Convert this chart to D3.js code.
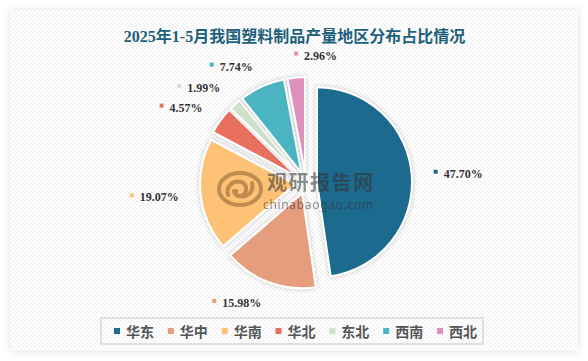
<!DOCTYPE html>
<html><head><meta charset="utf-8">
<script src="https://cdn.jsdelivr.net/npm/d3@7"></script>
<style>html,body{margin:0;padding:0;background:#fff;}svg{display:block;}</style>
</head><body>
<svg id="chart" width="588" height="361"></svg>
<script>
const titleText = "2025年1-5月我国塑料制品产量地区分布占比情况";
const categories = ["华东","华中","华南","华北","东北","西南","西北"];
const values = [47.70, 15.98, 19.07, 4.57, 1.99, 7.74, 2.96];
const colors = ["#1c6b8e","#e69d7d","#fec277","#e9705f","#cfe0cb","#4bb4c1","#dd91bc"];

const W = 588, H = 361;
const svg = d3.select("#chart");
const defs = svg.append("defs");

// stripe pattern
const pat = defs.append("pattern").attr("id","stripes").attr("patternUnits","userSpaceOnUse")
  .attr("width",4).attr("height",4);
pat.append("rect").attr("width",4).attr("height",4).attr("fill","#fff");
pat.append("path").attr("d","M-1,-1 L5,5 M-1,3 L1,5 M3,-1 L5,1").attr("stroke","#ececec").attr("stroke-width",1);

const fPanel = defs.append("filter").attr("id","panelShadow").attr("x","-5%").attr("y","-5%").attr("width","110%").attr("height","110%");
fPanel.append("feDropShadow").attr("dx",0).attr("dy",0).attr("stdDeviation",4).attr("flood-color","#000").attr("flood-opacity",0.12);

const fSlice = defs.append("filter").attr("id","sliceShadow").attr("x","-20%").attr("y","-20%").attr("width","140%").attr("height","140%");
fSlice.append("feDropShadow").attr("dx",0).attr("dy",0).attr("stdDeviation",2.5).attr("flood-color","#000").attr("flood-opacity",0.22);

// panel
svg.append("rect").attr("x",10).attr("y",10).attr("width",W-20).attr("height",H-20)
  .attr("fill","url(#stripes)").attr("filter","url(#panelShadow)");

// title
svg.append("text").attr("x",294.5).attr("y",36).attr("text-anchor","middle").attr("dominant-baseline","central")
  .attr("font-family","'Liberation Serif','Noto Sans CJK SC',serif").attr("font-weight","bold")
  .attr("font-size",16).attr("fill","#1e5f7b").text(titleText);

// pie
const cx = 306, cy = 183, R = 95, explode = 11, labelR = 128;
const pie = d3.pie().sort(null).value(d => d.value).startAngle(0).endAngle(2*Math.PI);
const data = categories.map((c,i) => ({name:c, value:values[i], color:colors[i]}));
const arcs = pie(data);
const arc = d3.arc().innerRadius(0).outerRadius(R);

const gPie = svg.append("g").attr("transform",`translate(${cx},${cy})`);
gPie.selectAll("path").data(arcs).join("path")
  .attr("d", arc)
  .attr("fill", d => d.data.color)
  .attr("stroke","#fff").attr("stroke-width",2).attr("stroke-linejoin","round")
  .attr("filter","url(#sliceShadow)")
  .attr("transform", d => {
    const m = (d.startAngle + d.endAngle)/2;
    return `translate(${explode*Math.sin(m)},${-explode*Math.cos(m)})`;
  });

// watermark
const wm = svg.append("g").attr("opacity",0.55);
const lg = wm.append("g").attr("transform","translate(240,189)").attr("fill","none").attr("stroke","#8a6030").attr("stroke-linecap","round");
lg.append("ellipse").attr("rx",21).attr("ry",16).attr("stroke-width",4);
lg.append("path").attr("d","M-12,6 C-16,-8 4,-12 6,-2 C8,8 -6,10 -4,2").attr("stroke-width",4);
lg.append("path").attr("d","M12,-6 C16,8 -4,12 -6,2").attr("stroke-width",4);
wm.append("text").attr("x",267).attr("y",181).attr("dominant-baseline","central")
  .attr("font-family","'Noto Sans CJK SC',sans-serif").attr("font-weight","bold").attr("font-size",20)
  .attr("fill","#333").attr("textLength",106).text("观研报告网");
wm.append("text").attr("x",263).attr("y",204).attr("dominant-baseline","central")
  .attr("font-family","'Noto Sans','DejaVu Sans',sans-serif").attr("font-size",12)
  .attr("fill","#333").attr("textLength",110).text("chinabaogao.com");

// labels
const gLab = svg.append("g");
arcs.forEach(d => {
  const m = (d.startAngle + d.endAngle)/2;
  const px = cx + labelR*Math.sin(m), py = cy - labelR*Math.cos(m);
  const right = Math.sin(m) > -0.15;
  const t = gLab.append("text").attr("y",py).attr("dominant-baseline","central")
    .attr("font-family","'Liberation Serif','DejaVu Serif',serif").attr("font-weight","bold")
    .attr("font-size",12).attr("fill","#333").text(d.data.value.toFixed(2) + "%");
  let mx;
  if (right) { t.attr("x", px + 10).attr("text-anchor","start"); mx = px; }
  else { t.attr("x", px).attr("text-anchor","end"); mx = px - t.node().getComputedTextLength() - 10; }
  gLab.append("rect").attr("x",mx).attr("y",py-4).attr("width",4).attr("height",4).attr("fill",d.data.color);
});

// legend
svg.append("rect").attr("x",101).attr("y",318).attr("width",382).attr("height",26)
  .attr("fill","none").attr("stroke","#d9d9d9").attr("stroke-width",1.5);
const lx = d3.scalePoint().domain(categories).range([114, 437]);
const gLeg = svg.append("g");
categories.forEach((c,i) => {
  const x = lx(c);
  gLeg.append("rect").attr("x",x).attr("y",328).attr("width",6).attr("height",6).attr("fill",colors[i]);
  gLeg.append("text").attr("x",x+12).attr("y",331).attr("dominant-baseline","central")
    .attr("font-family","'Noto Sans CJK SC',sans-serif").attr("font-weight","bold").attr("font-size",14)
    .attr("fill","#555").text(c);
});
</script>
</body></html>
